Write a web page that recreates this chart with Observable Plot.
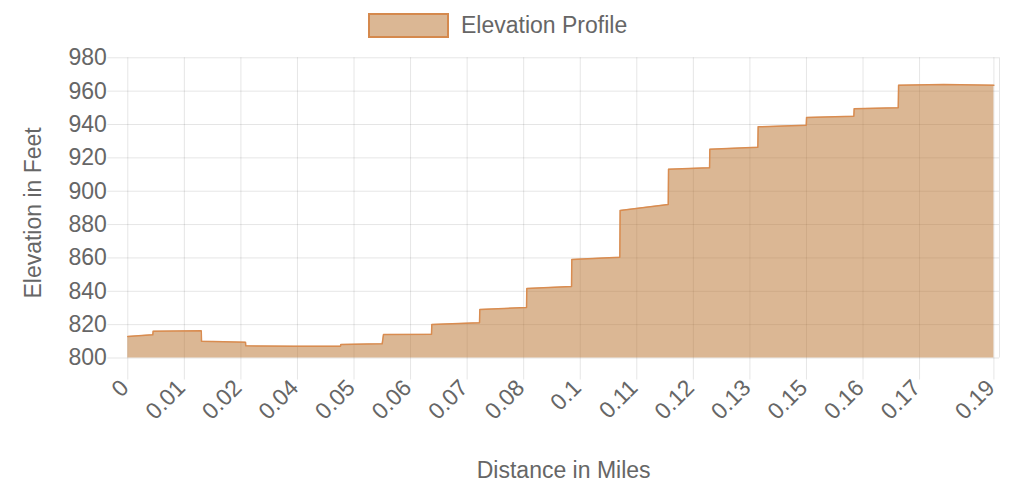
<!DOCTYPE html>
<html>
<head>
<meta charset="utf-8">
<script src="https://cdn.jsdelivr.net/npm/d3@7"></script>
<script src="https://cdn.jsdelivr.net/npm/@observablehq/plot@0.6"></script>
<style>
  body { margin: 0; background: #fff; font-family: "Liberation Sans", Arial, Helvetica, sans-serif; }
  #legend { position: relative; height: 45px; width: 1028px; }
  #legend .swatch { position: absolute; left: 368px; top: 13px; width: 81px; height: 25px; box-sizing: border-box;
    border: 2px solid #d5894d; background: #dbb794; }
  #legend .label { position: absolute; left: 461px; top: 11px; font-size: 23px; line-height: 28px; color: #666; white-space: nowrap; }
  svg { display: block; }
</style>
</head>
<body>
<div id="legend"><div class="swatch"></div><div class="label">Elevation Profile</div></div>
<div id="chart"></div>
<script>
// ---- data ----
const seriesName = "Elevation Profile";
const distanceMiles = [0, 0.00535, 0.00543, 0.01571, 0.01577, 0.02518, 0.02525, 0.03546, 0.04551, 0.04558,
  0.05443, 0.05471, 0.06498, 0.06505, 0.07525, 0.07532, 0.08531, 0.08537, 0.09494, 0.09500,
  0.10527, 0.10534, 0.11563, 0.11569, 0.12447, 0.12453, 0.13480, 0.13487, 0.14516, 0.14522,
  0.15534, 0.15541, 0.16484, 0.16491, 0.17454, 0.18530];
const elevationFeet = [812.9, 813.9, 816.1, 816.3, 810.1, 809.5, 807.3, 807.1, 807.1, 808.1,
  808.5, 814.1, 814.3, 820.1, 821.1, 829.1, 830.3, 841.7, 842.9, 859.1,
  860.4, 888.4, 892.0, 913.2, 914.0, 925.2, 926.4, 938.6, 939.6, 944.2,
  945.0, 949.4, 950.0, 963.5, 964.0, 963.5];
const xTickMiles = [0, 0.0121, 0.0242, 0.0363, 0.0484, 0.0605, 0.0726, 0.0847, 0.0968, 0.1089,
  0.121, 0.1331, 0.1452, 0.1573, 0.1694, 0.1853];
const xTickLabels = ["0", "0.01", "0.02", "0.04", "0.05", "0.06", "0.07", "0.08", "0.1", "0.11",
  "0.12", "0.13", "0.15", "0.16", "0.17", "0.19"];
const yTicks = [800, 820, 840, 860, 880, 900, 920, 940, 960, 980];
const xDomain = [0, 0.1865];
const yDomain = [800, 980];
const xTitle = "Distance in Miles";
const yTitle = "Elevation in Feet";

const data = distanceMiles.map((d, i) => ({distance: d, elevation: elevationFeet[i]}));

const textColor = "#666";
const gridColor = "#000";
const gridOpacity = 0.1;
const fs = 23;

const chart = Plot.plot({
  width: 1028,
  height: 445,
  marginTop: 12.3,
  marginBottom: 132.5,
  marginLeft: 127.3,
  marginRight: 29,
  style: {fontFamily: '"Liberation Sans", Arial, Helvetica, sans-serif', fontSize: fs + "px", color: textColor, background: "#fff"},
  x: {domain: xDomain, axis: null},
  y: {domain: yDomain, axis: null},
  marks: [
    Plot.gridY(yTicks, {stroke: gridColor, strokeOpacity: gridOpacity}),
    Plot.gridX(xTickMiles, {stroke: gridColor, strokeOpacity: gridOpacity}),
    Plot.ruleX([xDomain[1]], {stroke: gridColor, strokeOpacity: gridOpacity}),
    Plot.axisY(yTicks, {tickSize: 20, tickPadding: 1, stroke: gridColor, strokeOpacity: gridOpacity,
      fill: textColor, fontSize: fs, label: null}),
    Plot.axisX(xTickMiles, {tickSize: 22, tickFormat: () => "", stroke: gridColor, strokeOpacity: gridOpacity, label: null}),
    Plot.areaY(data, {x: "distance", y1: yDomain[0], y2: "elevation", fill: "rgb(183,111,41)", fillOpacity: 0.5}),
    Plot.line(data, {x: "distance", y: "elevation", stroke: "#d98c50", strokeWidth: 1.5}),
    Plot.text(xTickMiles, {x: d => d, text: (d, i) => xTickLabels[i], frameAnchor: "bottom",
      rotate: -45, textAnchor: "end", lineAnchor: "middle", dx: -3, dy: 26, fontSize: fs, fill: textColor}),
    Plot.text([yTitle], {frameAnchor: "left", rotate: -90, textAnchor: "middle", lineAnchor: "middle",
      dx: -94.3, dy: 5, fontSize: fs, fill: textColor}),
    Plot.text([xTitle], {frameAnchor: "bottom", textAnchor: "middle", lineAnchor: "middle", dy: 113, fontSize: fs, fill: textColor})
  ]
});
document.getElementById("chart").appendChild(chart);
</script>
</body>
</html>
